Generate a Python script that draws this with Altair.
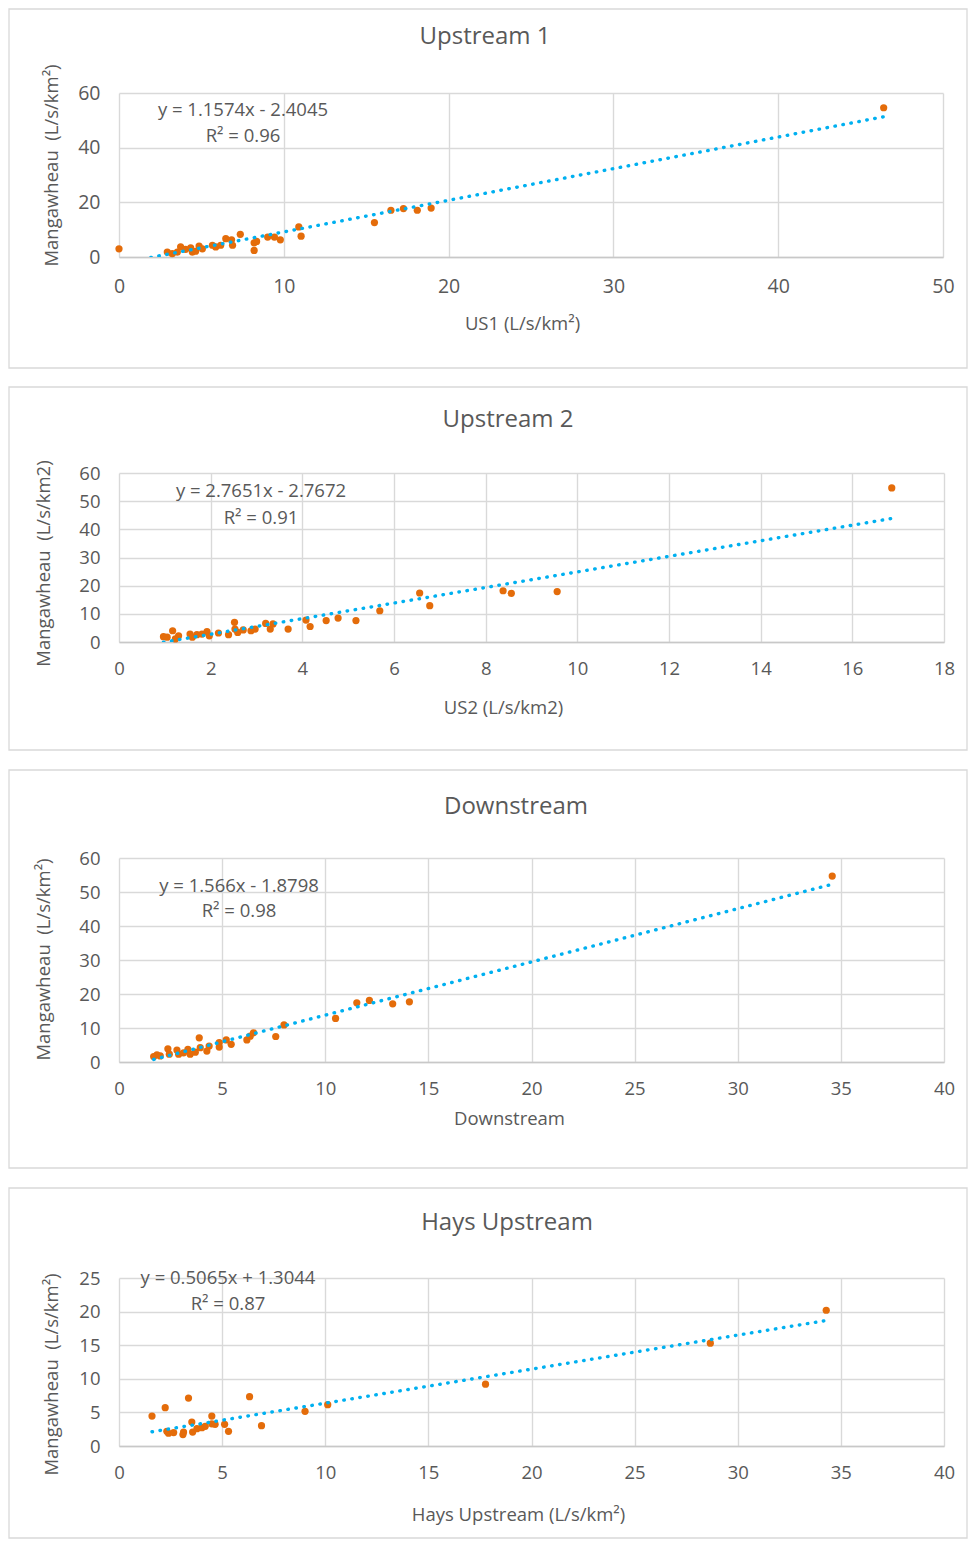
import altair as alt
import pandas as pd

FONT = "Open Sans"
TXT = "#595959"
ORANGE = "#E46C0A"
BLUE = "#00B0F0"
GRID = "#D9D9D9"
NBSP = "\u00a0"

# ---------------- data ----------------
titles = ["Upstream 1", "Upstream 2", "Downstream", "Hays Upstream"]
x_titles = ["US1 (L/s/km²)", "US2 (L/s/km2)", "Downstream", "Hays Upstream (L/s/km²)"]
y_titles = ["Mangawheau " + NBSP + "(L/s/km²)", "Mangawheau " + NBSP + "(L/s/km2)",
            "Mangawheau " + NBSP + "(L/s/km²)", "Mangawheau " + NBSP + "(L/s/km²)"]

us1_x = [0, 2.93, 3.23, 3.54, 3.74, 4.04, 4.35, 4.45, 4.65, 4.86, 5.06, 5.67, 5.87, 6.17,
         6.48, 6.83, 6.89, 7.36, 8.2, 8.2, 8.35, 9.02, 9.43, 9.79, 10.91, 11.05, 15.5,
         16.5, 17.26, 18.1, 18.94, 46.4]
us1_y = [3.0, 1.8, 1.2, 1.8, 3.7, 2.8, 3.3, 1.8, 2.1, 4.0, 3.0, 4.3, 3.7, 4.3,
         6.7, 6.3, 4.3, 8.3, 5.2, 2.4, 5.7, 7.3, 7.3, 6.3, 11.0, 7.6, 12.6,
         17.1, 17.7, 17.1, 17.9, 54.6]

us2_x = [0.97, 1.05, 1.17, 1.23, 1.3, 1.55, 1.6, 1.7, 1.81, 1.92, 1.97, 2.17, 2.39, 2.52,
         2.53, 2.59, 2.71, 2.88, 2.97, 3.2, 3.3, 3.36, 3.69, 4.08, 4.17, 4.52, 4.78, 5.17,
         5.69, 6.56, 6.78, 8.38, 8.56, 9.56, 16.86]
us2_y = [1.9, 1.7, 4.0, 1.1, 2.2, 2.8, 1.7, 2.6, 2.8, 3.7, 2.2, 3.2, 2.6, 7.0,
         4.6, 3.4, 4.3, 4.0, 4.6, 6.6, 4.6, 6.4, 4.6, 7.8, 5.5, 7.6, 8.5, 7.6,
         11.1, 17.4, 12.9, 18.2, 17.3, 17.9, 54.7]

ds_x = [1.68, 1.84, 2.0, 2.37, 2.44, 2.81, 2.89, 3.13, 3.34, 3.45, 3.7, 3.89, 3.94, 4.26,
        4.37, 4.86, 4.86, 5.2, 5.44, 6.2, 6.36, 6.52, 7.6, 8.0, 10.5, 11.53, 12.14, 13.27,
        14.08, 34.58]
ds_y = [1.6, 2.1, 1.8, 3.9, 2.3, 3.5, 2.3, 2.7, 3.7, 2.3, 2.9, 7.1, 4.2, 3.2,
        4.7, 5.7, 4.4, 6.5, 5.2, 6.5, 7.6, 8.6, 7.5, 10.9, 12.8, 17.4, 18.1, 17.1,
        17.7, 54.7]

hu_x = [1.6, 2.24, 3.37, 2.32, 2.4, 2.65, 3.1, 3.13, 3.53, 3.57, 3.78, 4.02, 4.18, 4.5,
        4.5, 4.66, 5.12, 5.31, 6.33, 6.91, 9.02, 10.12, 17.77, 28.67, 34.29]
hu_y = [4.46, 5.7, 7.14, 2.18, 1.9, 2.0, 1.7, 2.08, 3.57, 2.08, 2.57, 2.72, 2.93, 4.46,
        3.3, 3.23, 3.23, 2.18, 7.34, 3.02, 5.16, 6.15, 9.2, 15.3, 20.2]

slopes = [1.1574, 2.7651, 1.566, 0.5065]
intercepts = [-2.4045, -2.7672, -1.8798, 1.3044]
eq_texts = ["y = 1.1574x - 2.4045", "y = 2.7651x - 2.7672",
            "y = 1.566x - 1.8798", "y = 0.5065x + 1.3044"]
r2_texts = ["R² = 0.96", "R² = 0.91", "R² = 0.98", "R² = 0.87"]

x_ticks = [[0, 10, 20, 30, 40, 50], list(range(0, 19, 2)),
           list(range(0, 41, 5)), list(range(0, 41, 5))]
y_ticks = [[0, 20, 40, 60], list(range(0, 61, 10)),
           list(range(0, 61, 10)), list(range(0, 26, 5))]

xs_all = [us1_x, us2_x, ds_x, hu_x]
ys_all = [us1_y, us2_y, ds_y, hu_y]

# ---------------- layout / style per panel ----------------
layout = [
    dict(w=824, h=164, lab=19.5, title=(366, -56), xt_x=403, xt_y=66, yt_x=-68, yt_y=72,
         eq=(124, 17), r2=(124, 43), box=(-84, 275), xlp=20),
    dict(w=825, h=169, lab=18.5, title=(389, -53), xt_x=384, xt_y=65, yt_x=-76, yt_y=90,
         eq=(142, 18), r2=(142, 45), box=(-86, 277), xlp=17),
    dict(w=825, h=204, lab=18.5, title=(397, -51), xt_x=390, xt_y=56, yt_x=-76, yt_y=101,
         eq=(120, 28), r2=(120, 53), box=(-88, 310), xlp=17),
    dict(w=825, h=168, lab=18.5, title=(388, -55), xt_x=399, xt_y=68, yt_x=-68, yt_y=96,
         eq=(109, 0), r2=(109, 26), box=(-90, 260), xlp=17),
]


def make_panel(i):
    L = layout[i]
    xs, ys = xs_all[i], ys_all[i]
    df = pd.DataFrame({"x": xs, "y": ys})
    x0, x1 = min(xs), max(xs)
    line_df = pd.DataFrame({"x": [x0, x1],
                            "y": [slopes[i] * x0 + intercepts[i], slopes[i] * x1 + intercepts[i]]})
    xt, yt = x_ticks[i], y_ticks[i]

    x_axis = alt.Axis(values=xt, tickCount=len(xt), grid=True, gridColor=GRID, gridWidth=1.4,
                      ticks=False, domain=True, domainColor="#C8C8C8", domainWidth=1.5,
                      labelFont=FONT, labelFontSize=L["lab"], labelColor=TXT,
                      labelPadding=L["xlp"], labelFlush=False, labelOverlap=False,
                      title=x_titles[i], titleFont=FONT, titleFontSize=18.5,
                      titleFontWeight="normal", titleColor=TXT,
                      titleX=L["xt_x"], titleY=L["xt_y"], titleBaseline="middle",
                      titleAlign="center")
    y_axis = alt.Axis(values=yt, tickCount=len(yt), grid=True, gridColor=GRID, gridWidth=1.4,
                      ticks=False, domain=False, labelFont=FONT, labelFontSize=L["lab"],
                      labelColor=TXT, labelPadding=19, labelFlush=False, labelOverlap=False,
                      title=y_titles[i], titleFont=FONT, titleFontSize=18.5,
                      titleFontWeight="normal", titleColor=TXT,
                      titleX=L["yt_x"], titleY=L["yt_y"], titleBaseline="middle",
                      titleAlign="center", titleAngle=270)

    xscale = alt.Scale(domain=[xt[0], xt[-1]], nice=False, zero=False)
    yscale = alt.Scale(domain=[yt[0], yt[-1]], nice=False, zero=False)
    X = alt.X("x:Q", scale=xscale, axis=x_axis)
    Y = alt.Y("y:Q", scale=yscale, axis=y_axis)

    one = pd.DataFrame({"a": [0]})
    box = alt.Chart(one).mark_rect(fill="white", fillOpacity=0, stroke=GRID,
                                   strokeWidth=1.3).encode(
        x=alt.value(-110), x2=alt.value(848),
        y=alt.value(L["box"][0]), y2=alt.value(L["box"][1]))

    pts = alt.Chart(df).mark_circle(size=52, color=ORANGE, opacity=1).encode(x=X, y=Y)

    line = alt.Chart(line_df).mark_line(color=BLUE, strokeWidth=3.4, strokeCap="round",
                                        strokeDash=[0.5, 7.6], clip=True).encode(x=X, y=Y)

    def txt(pos, s, size):
        return alt.Chart(one).mark_text(font=FONT, fontSize=size, color=TXT, align="center",
                                        baseline="middle").encode(
            x=alt.value(pos[0]), y=alt.value(pos[1]), text=alt.value(s))

    return alt.layer(box, pts, line,
                     txt(L["eq"], eq_texts[i], 18.5),
                     txt(L["r2"], r2_texts[i], 18.5),
                     txt(L["title"], titles[i], 24)).properties(
        width=L["w"], height=L["h"])


chart = alt.vconcat(*[make_panel(i) for i in range(4)], spacing=216, bounds="flush").properties(
    padding=0, background="white"
).configure_view(strokeOpacity=0)

chart.save("out.html", embed_options={"renderer": "svg", "actions": False})
